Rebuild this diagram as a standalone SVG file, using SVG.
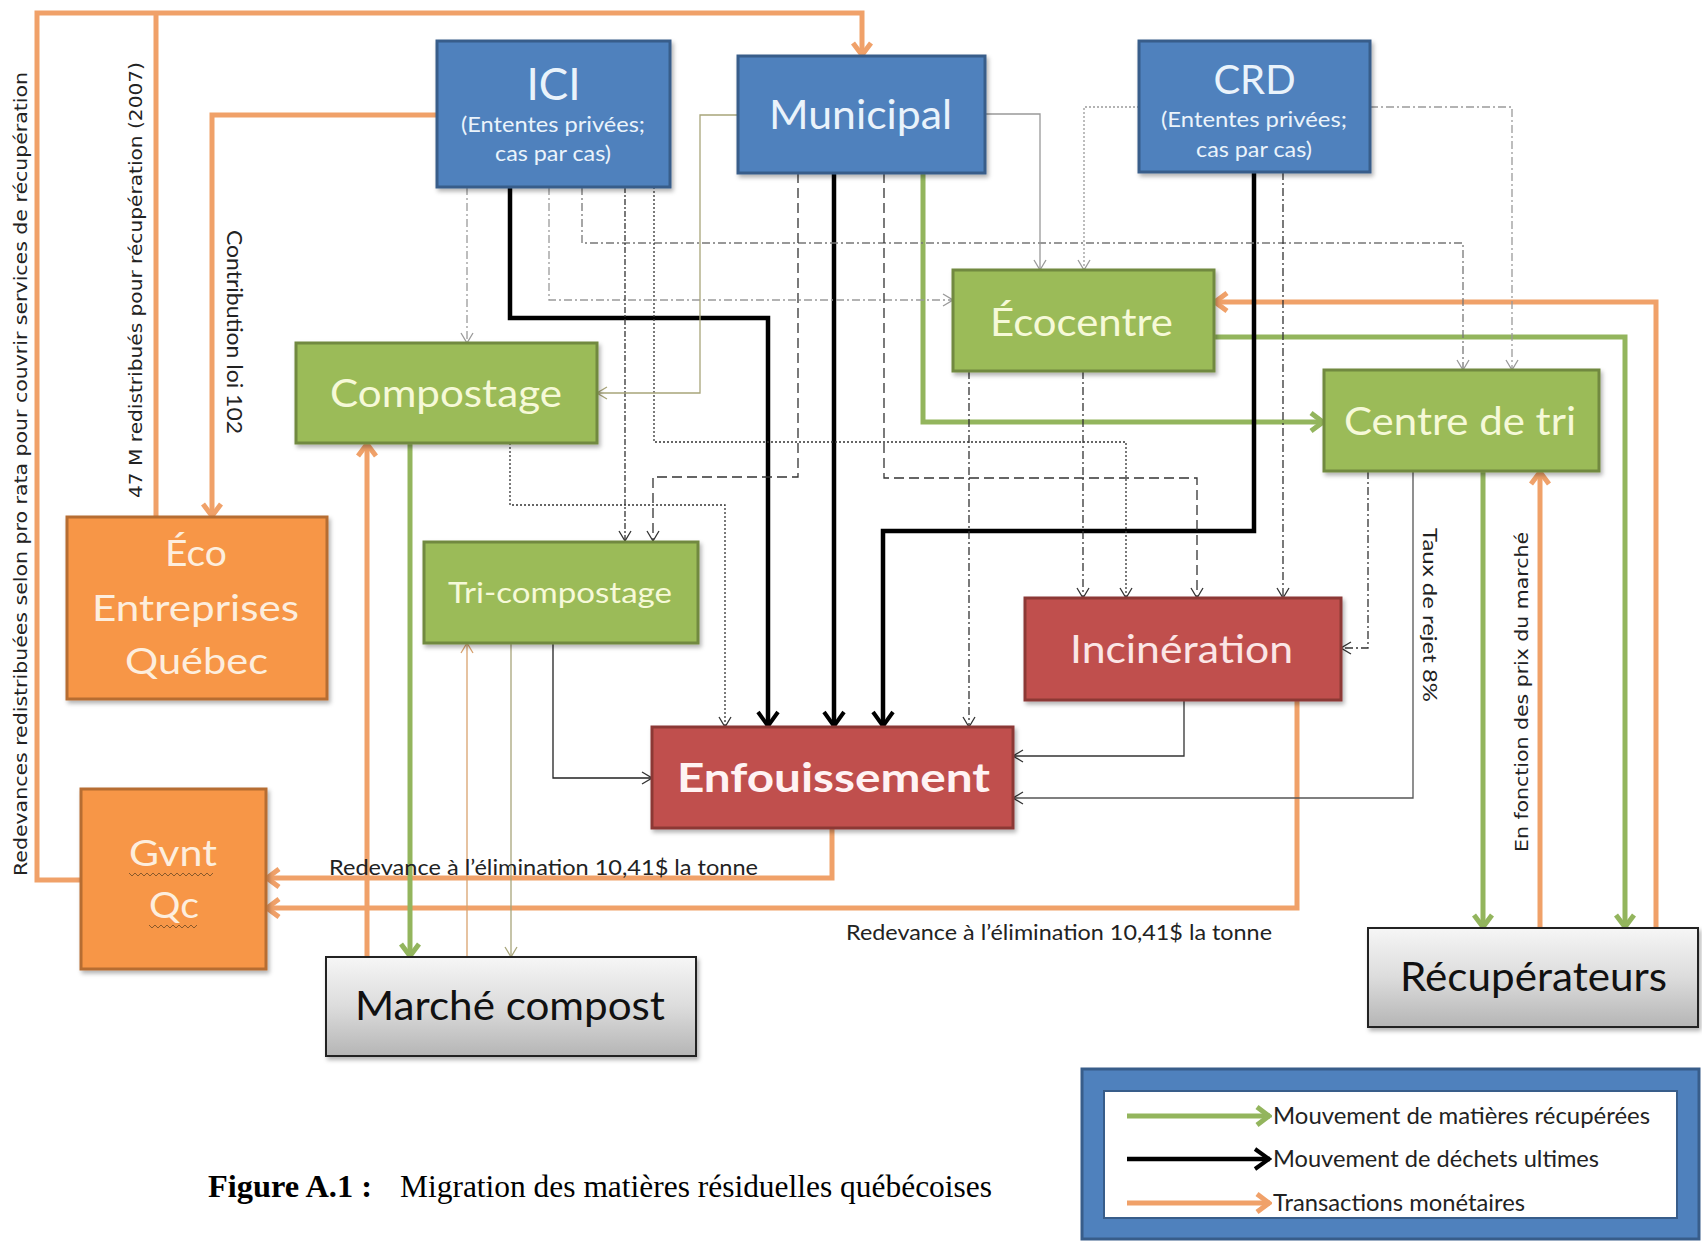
<svg xmlns="http://www.w3.org/2000/svg" width="1702" height="1242" viewBox="0 0 1702 1242">
<style>
.box{stroke-width:3}
.blue{fill:#4f81bd;stroke:#385d8a}
.green{fill:#9bbb59;stroke:#71893f}
.orange{fill:#f79646;stroke:#b66d31}
.red{fill:#c0504d;stroke:#8c3836}
.gray{fill:url(#grayGrad);stroke:#222;stroke-width:2}
.t{font-family:Lato,"Liberation Sans",sans-serif}
.tb{fill:#eaf3fb}
.tg{fill:#f6f9d8}
.to{fill:#fdeede}
.tr{fill:#fbe6e6}
.tk{fill:#111}
.o{stroke:#f0a169;stroke-width:5;fill:none}
.g{stroke:#93b55d;stroke-width:5;fill:none}
.k{stroke:#000;stroke-width:4.5;fill:none}
.thin{fill:none;stroke-width:1.3}
.dark{stroke:#333}
.mid{stroke:#777}
.light{stroke:#9a9a9a}
.dd{stroke-dasharray:8 3 2 3}
.dense{stroke-dasharray:6 2 2 2}
.dot{stroke-dasharray:2 2}
.dash{stroke-dasharray:10 5}
.rot{font-family:"DejaVu Sans",Verdana,sans-serif;font-size:17px;fill:#222}
.lab{font-family:Lato,"Liberation Sans",sans-serif;fill:#222}
.cap{font-family:"Liberation Serif","Times New Roman",serif;fill:#000}
</style>
<defs>
<linearGradient id="grayGrad" x1="0" y1="0" x2="0" y2="1">
<stop offset="0" stop-color="#f6f6f6"/>
<stop offset="0.5" stop-color="#dcdcdc"/>
<stop offset="1" stop-color="#b5b5b5"/>
</linearGradient>
<filter id="sh" x="-10%" y="-10%" width="125%" height="130%">
<feDropShadow dx="2" dy="3" stdDeviation="2" flood-color="#000" flood-opacity="0.3"/>
</filter>
<marker id="aDark" viewBox="0 0 12 14" refX="11" refY="7" markerWidth="12" markerHeight="14" orient="auto" markerUnits="userSpaceOnUse"><path d="M1,1 L11,7 L1,13" fill="none" stroke="#333" stroke-width="1.3"/></marker>
<marker id="aLight" viewBox="0 0 12 14" refX="11" refY="7" markerWidth="12" markerHeight="14" orient="auto" markerUnits="userSpaceOnUse"><path d="M1,1 L11,7 L1,13" fill="none" stroke="#9a9a9a" stroke-width="1.3"/></marker>
<marker id="aOlive" viewBox="0 0 12 14" refX="11" refY="7" markerWidth="12" markerHeight="14" orient="auto" markerUnits="userSpaceOnUse"><path d="M1,1 L11,7 L1,13" fill="none" stroke="#a8a57a" stroke-width="1.3"/></marker>
<marker id="aTan" viewBox="0 0 12 14" refX="11" refY="7" markerWidth="12" markerHeight="14" orient="auto" markerUnits="userSpaceOnUse"><path d="M1,1 L11,7 L1,13" fill="none" stroke="#d9a26e" stroke-width="1.3"/></marker>
<marker id="aBlack" viewBox="0 0 20 24" refX="18" refY="12" markerWidth="20" markerHeight="24" orient="auto" markerUnits="userSpaceOnUse"><path d="M3,2 L17,12 L3,22" fill="none" stroke="#000" stroke-width="4"/></marker>
<marker id="aGreen" viewBox="0 0 18 22" refX="16" refY="11" markerWidth="18" markerHeight="22" orient="auto" markerUnits="userSpaceOnUse"><path d="M3,2 L15,11 L3,20" fill="none" stroke="#93b55d" stroke-width="5"/></marker>
<marker id="aOrange" viewBox="0 0 18 22" refX="16" refY="11" markerWidth="18" markerHeight="22" orient="auto" markerUnits="userSpaceOnUse"><path d="M3,2 L15,11 L3,20" fill="none" stroke="#f0a169" stroke-width="5"/></marker>
</defs>
<rect width="1702" height="1242" fill="#fff"/>

<g id="connectors">
<path class="o" d="M81,880 H37 V13 H862 V56" marker-end="url(#aOrange)"/>
<path class="o" d="M156,517 V13"/>
<path class="o" d="M437,115 H212 V517" marker-end="url(#aOrange)"/>
<path class="o" d="M367,957 V443" marker-end="url(#aOrange)"/>
<path class="o" d="M832,828 V878 H266" marker-end="url(#aOrange)"/>
<path class="o" d="M1297,700 V908 H266" marker-end="url(#aOrange)"/>
<path class="o" d="M1656,928 V302 H1214" marker-end="url(#aOrange)"/>
<path class="o" d="M1540,928 V471" marker-end="url(#aOrange)"/>
<path class="g" d="M410,443 V957" marker-end="url(#aGreen)"/>
<path class="g" d="M923,173 V422 H1324" marker-end="url(#aGreen)"/>
<path class="g" d="M1214,337 H1625 V928" marker-end="url(#aGreen)"/>
<path class="g" d="M1483,471 V928" marker-end="url(#aGreen)"/>
<path class="k" d="M510,187 V318 H768 V727" marker-end="url(#aBlack)"/>
<path class="k" d="M834,173 V727" marker-end="url(#aBlack)"/>
<path class="k" d="M1254,172 V531 H883 V727" marker-end="url(#aBlack)"/>
<path class="thin light dd" d="M467,187 V343" marker-end="url(#aLight)"/>
<path class="thin light dd" d="M549,187 V300 H953" marker-end="url(#aLight)"/>
<path class="thin mid dd" d="M582,187 V243 H1463 V370" marker-end="url(#aLight)"/>
<path class="thin dark dense" d="M625,187 V541" marker-end="url(#aDark)"/>
<path class="thin dark dot" d="M654,187 V442 H1126 V598" marker-end="url(#aDark)"/>
<path class="thin" stroke="#a8a57a" d="M738,115 H700 V393 H597" marker-end="url(#aOlive)"/>
<path class="thin" stroke="#999" d="M985,114 H1040 V270" marker-end="url(#aLight)"/>
<path class="thin dark dash" d="M798,173 V477 H653 V541" marker-end="url(#aDark)"/>
<path class="thin dark dash" d="M884,173 V478 H1197 V598" marker-end="url(#aDark)"/>
<path class="thin light dot" d="M1139,107 H1084 V270" marker-end="url(#aLight)"/>
<path class="thin light dd" d="M1370,107 H1512 V370" marker-end="url(#aLight)"/>
<path class="thin dark dd" d="M1283,172 V598" marker-end="url(#aDark)"/>
<path class="thin dark dd" d="M969,371 V727" marker-end="url(#aDark)"/>
<path class="thin dark dd" d="M1083,371 V598" marker-end="url(#aDark)"/>
<path class="thin dark dot" d="M510,443 V505 H725 V727" marker-end="url(#aDark)"/>
<path class="thin dark dd" d="M1368,471 V648 H1341" marker-end="url(#aDark)"/>
<path class="thin" stroke="#555" d="M1413,471 V798 H1013" marker-end="url(#aDark)"/>
<path class="thin" stroke="#333" d="M1184,700 V756 H1013" marker-end="url(#aDark)"/>
<path class="thin" stroke="#222" d="M553,643 V778 H652" marker-end="url(#aDark)"/>
<path class="thin" stroke="#d9a26e" d="M467,957 V643" marker-end="url(#aTan)"/>
<path class="thin" stroke="#a8a57a" d="M511,643 V957" marker-end="url(#aOlive)"/>
</g>

<g id="connector-labels">
<text class="rot" transform="translate(27,876) rotate(-90)" textLength="804" lengthAdjust="spacingAndGlyphs">Redevances redistribuées selon pro rata pour couvrir services de récupération</text>
<text class="rot" transform="translate(142,498) rotate(-90)" textLength="436" lengthAdjust="spacingAndGlyphs">47 M redistribués pour récupération (2007)</text>
<text class="lab" font-size="21" transform="translate(227,230) rotate(90)" textLength="204" lengthAdjust="spacingAndGlyphs">Contribution loi 102</text>
<text class="lab" font-size="20" transform="translate(1423,528) rotate(90)" textLength="174" lengthAdjust="spacingAndGlyphs">Taux de rejet  8%</text>
<text class="rot" transform="translate(1528,852) rotate(-90)" textLength="320" lengthAdjust="spacingAndGlyphs">En fonction des prix du marché</text>
<text class="lab" font-size="21" x="329" y="875" textLength="429" lengthAdjust="spacingAndGlyphs">Redevance à l’élimination 10,41$ la tonne</text>
<text class="lab" font-size="21" x="846" y="940" textLength="426" lengthAdjust="spacingAndGlyphs">Redevance à l’élimination 10,41$ la tonne</text>
</g>

<g id="node-ici">
<rect class="box blue" x="437" y="41" width="233" height="146" filter="url(#sh)"/>
<text class="t tb" x="553.5" y="100" font-size="44" text-anchor="middle">ICI</text>
<text class="t tb" x="461" y="132" font-size="21" textLength="184" lengthAdjust="spacingAndGlyphs">(Ententes privées;</text>
<text class="t tb" x="495" y="161" font-size="21" textLength="116" lengthAdjust="spacingAndGlyphs">cas par cas)</text>
</g>
<g id="node-municipal">
<rect class="box blue" x="738" y="56" width="247" height="117" filter="url(#sh)"/>
<text class="t tb" x="769" y="129" font-size="41" textLength="183" lengthAdjust="spacingAndGlyphs">Municipal</text>
</g>
<g id="node-crd">
<rect class="box blue" x="1139" y="41" width="231" height="131" filter="url(#sh)"/>
<text class="t tb" x="1254.5" y="94" font-size="40" text-anchor="middle">CRD</text>
<text class="t tb" x="1161" y="127" font-size="21" textLength="186" lengthAdjust="spacingAndGlyphs">(Ententes privées;</text>
<text class="t tb" x="1196" y="157" font-size="21" textLength="116" lengthAdjust="spacingAndGlyphs">cas par cas)</text>
</g>
<g id="node-ecocentre">
<rect class="box green" x="953" y="270" width="261" height="101" filter="url(#sh)"/>
<text class="t tg" x="990" y="336" font-size="38" textLength="183" lengthAdjust="spacingAndGlyphs">Écocentre</text>
</g>
<g id="node-compostage">
<rect class="box green" x="296" y="343" width="301" height="100" filter="url(#sh)"/>
<text class="t tg" x="330" y="407" font-size="38" textLength="232" lengthAdjust="spacingAndGlyphs">Compostage</text>
</g>
<g id="node-centre-tri">
<rect class="box green" x="1324" y="370" width="275" height="101" filter="url(#sh)"/>
<text class="t tg" x="1344" y="435" font-size="38" textLength="232" lengthAdjust="spacingAndGlyphs">Centre de tri</text>
</g>
<g id="node-eco-entreprises">
<rect class="box orange" x="67" y="517" width="260" height="182" filter="url(#sh)"/>
<text class="t to" x="165" y="566" font-size="36" textLength="62" lengthAdjust="spacingAndGlyphs">Éco</text>
<text class="t to" x="92" y="621" font-size="36" textLength="207" lengthAdjust="spacingAndGlyphs">Entreprises</text>
<text class="t to" x="125" y="674" font-size="36" textLength="143" lengthAdjust="spacingAndGlyphs">Québec</text>
</g>
<g id="node-tri-compostage">
<rect class="box green" x="424" y="542" width="274" height="101" filter="url(#sh)"/>
<text class="t tg" x="448" y="603" font-size="29" textLength="224" lengthAdjust="spacingAndGlyphs">Tri-compostage</text>
</g>
<g id="node-incineration">
<rect class="box red" x="1025" y="598" width="316" height="102" filter="url(#sh)"/>
<text class="t tr" x="1070" y="663" font-size="38" textLength="223" lengthAdjust="spacingAndGlyphs">Incinération</text>
</g>
<g id="node-enfouissement">
<rect class="box red" x="652" y="727" width="361" height="101" filter="url(#sh)"/>
<text class="t" fill="#fff3f3" font-weight="bold" x="677" y="792" font-size="41" textLength="313" lengthAdjust="spacingAndGlyphs">Enfouissement</text>
</g>
<g id="node-gvnt">
<rect class="box orange" x="81" y="789" width="185" height="180" filter="url(#sh)"/>
<text class="t to" x="129" y="866" font-size="36" textLength="88" lengthAdjust="spacingAndGlyphs">Gvnt</text>
<text class="t to" x="149" y="918" font-size="36" textLength="50" lengthAdjust="spacingAndGlyphs">Qc</text>
<path d="M129,873 l3,3 l3,-3 l3,3 l3,-3 l3,3 l3,-3 l3,3 l3,-3 l3,3 l3,-3 l3,3 l3,-3 l3,3 l3,-3 l3,3 l3,-3 l3,3 l3,-3 l3,3 l3,-3 l3,3 l3,-3 l3,3 l3,-3 l3,3 l3,-3 l3,3 l3,-3" fill="none" stroke="#8b5a2b" stroke-width="1"/>
<path d="M149,925 l3,3 l3,-3 l3,3 l3,-3 l3,3 l3,-3 l3,3 l3,-3 l3,3 l3,-3 l3,3 l3,-3 l3,3 l3,-3 l3,3 l3,-3" fill="none" stroke="#8b5a2b" stroke-width="1"/>
</g>
<g id="node-marche-compost">
<rect class="gray" x="326" y="957" width="370" height="99" filter="url(#sh)"/>
<text class="t tk" x="355" y="1020" font-size="40" textLength="310" lengthAdjust="spacingAndGlyphs">Marché compost</text>
</g>
<g id="node-recuperateurs">
<rect class="gray" x="1368" y="928" width="330" height="99" filter="url(#sh)"/>
<text class="t tk" x="1400" y="991" font-size="40" textLength="267" lengthAdjust="spacingAndGlyphs">Récupérateurs</text>
</g>

<g id="legend">
<rect x="1082" y="1069" width="617" height="170" fill="#4f81bd" stroke="#385d8a" stroke-width="3"/>
<rect x="1104" y="1091" width="573" height="127" fill="#fff" stroke="#385d8a" stroke-width="2"/>
<path class="g" d="M1127,1116 H1270" marker-end="url(#aGreen)"/>
<path class="k" d="M1127,1159 H1270" marker-end="url(#aBlack)"/>
<path class="o" d="M1127,1203 H1270" marker-end="url(#aOrange)"/>
<text class="lab" font-size="23" x="1273" y="1124" textLength="377" lengthAdjust="spacingAndGlyphs">Mouvement de matières récupérées</text>
<text class="lab" font-size="23" x="1273" y="1167" textLength="326" lengthAdjust="spacingAndGlyphs">Mouvement de déchets ultimes</text>
<text class="lab" font-size="23" x="1273" y="1211" textLength="252" lengthAdjust="spacingAndGlyphs">Transactions monétaires</text>
</g>

<g id="caption">
<text class="cap" x="208" y="1197" font-weight="bold" font-size="31" textLength="164" lengthAdjust="spacingAndGlyphs">Figure A.1 :</text>
<text class="cap" x="400" y="1197" font-size="31" textLength="592" lengthAdjust="spacingAndGlyphs">Migration des matières résiduelles québécoises</text>
</g>
</svg>
